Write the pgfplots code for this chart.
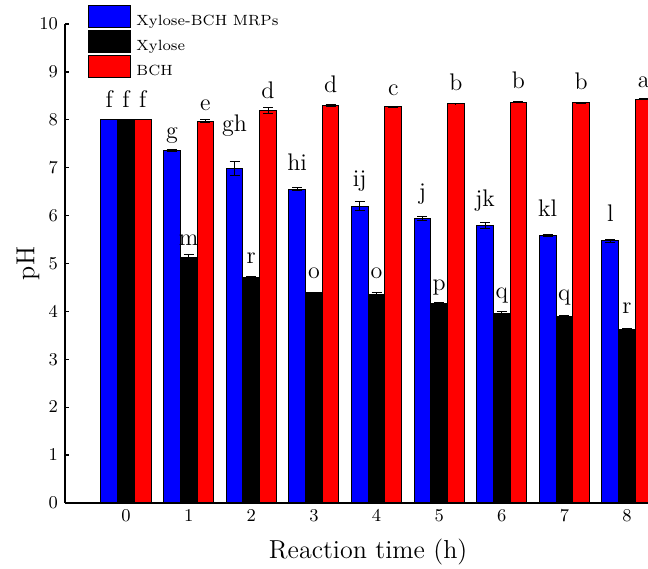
\documentclass[border=0pt]{standalone}
\usepackage{pgfplots}
\usepackage{pgfplotstable}
\pgfplotsset{compat=1.18}
\usetikzlibrary{calc}

% x = reaction time, y = pH, e = sd, o = label lift (pt), lab = letters
\pgfplotstableread{
x y    e    o    lab
0 8.00 0.00 6.2  f
1 7.35 0.02 6.3  g
2 6.98 0.14 18.5 gh
3 6.55 0.03 9.5  hi
4 6.20 0.10 10.0 ij
5 5.94 0.04 9.7  j
6 5.80 0.06 9.5  jk
7 5.59 0.02 9.5  kl
8 5.47 0.04 9.8  l
}\mrpdata

\pgfplotstableread{
x y    e    o    lab
0 8.00 0.00 6.2  f
1 5.12 0.06 6.3  m
2 4.70 0.02 7.3  r
3 4.39 0.01 7.3  o
4 4.36 0.03 8.0  o
5 4.16 0.03 6.5  p
6 3.95 0.05 7.5  q
7 3.90 0.01 8.0  q
8 3.63 0.01 8.0  r
}\xyldata

\pgfplotstableread{
x y    e    o    lab
0 8.00 0.00 6.2  f
1 7.97 0.03 5.5  e
2 8.20 0.06 6.0  d
3 8.29 0.02 6.5  d
4 8.27 0.01 5.8  c
5 8.34 0.01 6.6  b
6 8.37 0.01 6.6  b
7 8.36 0.01 6.6  b
8 8.43 0.01 6.0  a
}\bchdata

\pgfplotsset{
  barstyle/.style={
    draw=black, line width=0.5pt,
    legend image code/.code={\draw[##1] (0pt,-2.8pt) rectangle (21pt,8.2pt);},
    error bars/y dir=both, error bars/y explicit,
    error bars/error bar style={line width=0.5pt, black},
    error bars/error mark options={rotate=90, mark size=2.5pt, line width=0.5pt, black},
    point meta=explicit symbolic,
    nodes near coords,
    visualization depends on={\thisrow{o}\as\lift},
    every node near coord/.append style={anchor=base, yshift=\lift pt,
      inner sep=0pt, text=black, font=\fontsize{12}{14}\selectfont},
  },
}

\begin{document}
\begin{tikzpicture}
\begin{axis}[
  scale only axis, width=291.5pt, height=239.5pt,
  ybar=0pt, bar width=0.267,
  xmin=-0.975, xmax=8.335, ymin=0, ymax=10,
  axis x line*=bottom, axis y line*=left,
  axis line style={line width=0.9pt},
  xtick={0,...,8}, ytick={0,...,10},
  x tick style={draw=none},
  y tick style={line width=0.6pt, black},
  major tick length=2pt, tick align=inside,
  ticklabel style={font=\fontsize{9}{10}\selectfont},
  xlabel={Reaction time (h)}, ylabel={pH},
  label style={font=\fontsize{13}{15}\selectfont},
  xlabel style={at={(axis description cs:0.52,0)}, anchor=center, yshift=-24.5pt},
  ylabel style={at={(axis description cs:-0.0635,0.5)}, anchor=center},
  legend style={at={(0.0395,1.0397)}, anchor=north west, draw=none, fill=none,
    font=\fontsize{7.4}{9}\selectfont, inner sep=0pt, row sep=0.5pt,
    column sep=2.5pt, nodes={inner sep=0pt}},
  legend cell align=left,
]
\addplot[fill=blue, barstyle] table[x=x, y=y, y error=e, meta=lab]{\mrpdata};
\addplot[fill=black, barstyle] table[x=x, y=y, y error=e, meta=lab]{\xyldata};
\addplot[fill=red, barstyle] table[x=x, y=y, y error=e, meta=lab]{\bchdata};
\legend{Xylose-BCH MRPs, Xylose, BCH}
\end{axis}
\pgfresetboundingbox
\path[use as bounding box] ($(current axis.south west)+(-32.5pt,-33pt)$)
  rectangle ($(current axis.north east)+(0pt,12pt)$);
\end{tikzpicture}
\end{document}
